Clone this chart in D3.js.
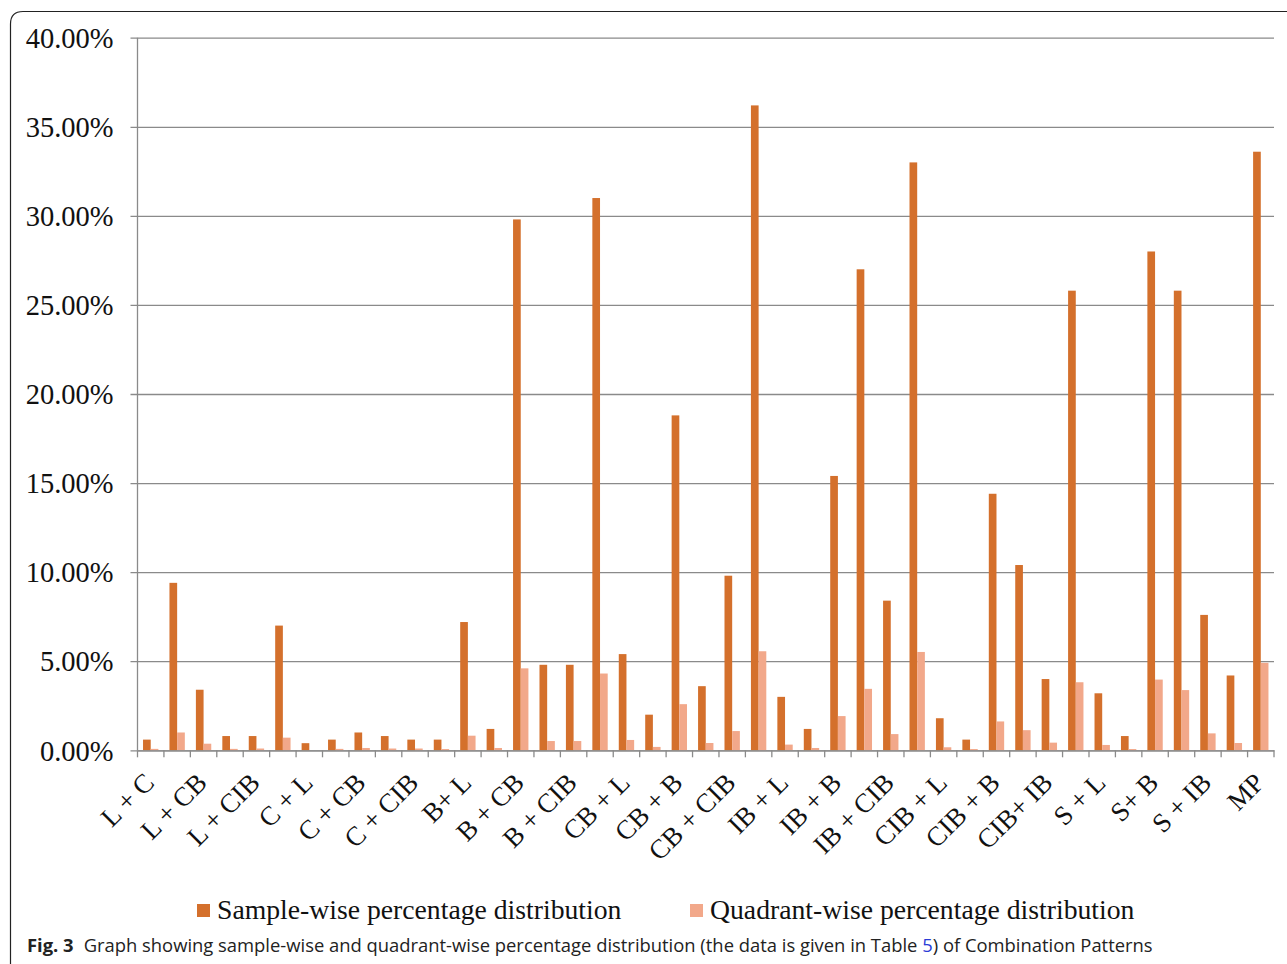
<!DOCTYPE html>
<html><head><meta charset="utf-8">
<script src="https://cdn.jsdelivr.net/npm/d3@7"></script>
<style>
html,body{margin:0;padding:0;background:#fff;}
svg{display:block;}
</style></head>
<body>
<svg id="chart" width="1287" height="964"></svg>
<script>
const categories = [
  "L + C","L + B","L + CB","L + IB","L + CIB","L + S",
  "C + L","C + B","C + CB","C + IB","C + CIB","C + S",
  "B+ L","B + C","B + CB","B + IB","B + CIB","B + S",
  "CB + L","CB + C","CB + B","CB + IB","CB + CIB","CB + S",
  "IB + L","IB + C","IB + B","IB + CB","IB + CIB","IB + S",
  "CIB + L","CIB + C","CIB + B","CIB + CB","CIB+ IB","CIB + S",
  "S + L","S + C","S+ B","S + CB","S + IB","S + CIB",
  "MP"
];
const sampleWise = [
  0.6, 9.4, 3.4, 0.8, 0.8, 7.0,
  0.4, 0.6, 1.0, 0.8, 0.6, 0.6,
  7.2, 1.2, 29.8, 4.8, 4.8, 31.0,
  5.4, 2.0, 18.8, 3.6, 9.8, 36.2,
  3.0, 1.2, 15.4, 27.0, 8.4, 33.0,
  1.8, 0.6, 14.4, 10.4, 4.0, 25.8,
  3.2, 0.8, 28.0, 25.8, 7.6, 4.2,
  33.6
];
const quadrantWise = [
  0.08, 1.0, 0.37, 0.08, 0.1, 0.71,
  0.0, 0.08, 0.13, 0.1, 0.1, 0.07,
  0.82, 0.13, 4.6, 0.52, 0.52, 4.31,
  0.58, 0.19, 2.59, 0.41, 1.08, 5.56,
  0.32, 0.13, 1.92, 3.45, 0.91, 5.52,
  0.17, 0.07, 1.62, 1.13, 0.43, 3.82,
  0.3, 0.07, 3.97, 3.38, 0.95, 0.41,
  4.91
];
const seriesNames = ["Sample-wise percentage distribution","Quadrant-wise percentage distribution"];
const seriesColors = ["#D4702C","#F2A88A"];
const yTicks = [0,5,10,15,20,25,30,35,40];

(function(){
const svg = d3.select("#chart");
const serif = "'Liberation Serif','Times New Roman',serif";

// frame
svg.append("path")
  .attr("d","M10.5,964 L10.5,24 Q10.5,11.5 23,11.5 L1287,11.5")
  .attr("fill","none").attr("stroke","#222").attr("stroke-width",1.2);

const pL = 137.5, pR = 1274, pT = 37.7, pB = 750.3;
const x0 = d3.scaleBand().domain(categories).range([pL,pR]).paddingInner(0).paddingOuter(0);
const x1 = d3.scaleBand().domain([0,1]).range([0,x0.bandwidth()]).paddingInner(0).paddingOuter(0.72);
const y = d3.scaleLinear().domain([0,40]).range([pB,pT]);
const fmt = v => d3.format(".2%")(v/100);

// gridlines
const yAxis = d3.axisLeft(y).tickValues(yTicks).tickFormat(fmt).tickSize(-(pR-pL)).tickSizeOuter(0).tickPadding(24);
const gy = svg.append("g").attr("transform",`translate(${pL},0)`).call(yAxis);
gy.select(".domain").remove();
gy.selectAll(".tick line").attr("stroke","#8a8a8a").attr("stroke-width",1.3).attr("x1",-7);
gy.selectAll(".tick text").attr("font-family",serif).attr("font-size",28.5).attr("fill","#111").attr("dy","0.34em");

// y axis line
svg.append("line").attr("x1",pL).attr("x2",pL).attr("y1",pT).attr("y2",pB)
  .attr("stroke","#8a8a8a").attr("stroke-width",1.3);

// bars
const data = categories.map((c,i)=>({c, vals:[sampleWise[i], quadrantWise[i]]}));
const groups = svg.append("g").selectAll("g").data(data).join("g")
  .attr("transform",d=>`translate(${x0(d.c)},0)`);
groups.selectAll("rect").data(d=>d.vals.map((v,k)=>({v,k}))).join("rect")
  .attr("x",d=>x1(d.k)).attr("width",x1.bandwidth())
  .attr("y",d=>y(d.v)).attr("height",d=>pB-y(d.v))
  .attr("fill",d=>seriesColors[d.k]);

// x axis
const xAxis = d3.axisBottom(x0).tickSize(0).tickFormat((d,i)=> i%2===0 ? d : "");
const gx = svg.append("g").attr("transform",`translate(0,${pB})`).call(xAxis);
gx.select(".domain").attr("stroke","#8a8a8a").attr("stroke-width",1.3);
gx.selectAll(".tick text")
  .attr("font-family",serif).attr("font-size",27).attr("fill","#111")
  .attr("text-anchor","end").attr("dy",0).attr("y",0)
  .attr("transform","translate(5,34) rotate(-45)");
// boundary tick marks
const bounds = categories.map(c=>x0(c)).concat([pR]);
svg.append("g").selectAll("line").data(bounds).join("line")
  .attr("x1",d=>d).attr("x2",d=>d).attr("y1",pB).attr("y2",pB+7)
  .attr("stroke","#8a8a8a").attr("stroke-width",1.3);

// legend
const legX = [197, 690];
const leg = svg.append("g").selectAll("g").data(seriesNames).join("g")
  .attr("transform",(d,i)=>`translate(${legX[i]},904)`);
leg.append("rect").attr("width",13).attr("height",13).attr("fill",(d,i)=>seriesColors[i]);
leg.append("text").attr("x",20).attr("y",15).attr("font-family",serif).attr("font-size",27.7)
  .attr("fill","#111").text(d=>d);

// caption
const cap = svg.append("text").attr("x",27).attr("y",952).attr("font-family","'Open Sans','Noto Sans',sans-serif")
  .attr("font-size",18.4).attr("fill","#222");
cap.append("tspan").attr("font-weight","bold").text("Fig. 3");
cap.append("tspan").attr("dx",10).text("Graph showing sample-wise and quadrant-wise percentage distribution (the data is given in Table ");
cap.append("tspan").attr("fill","#2a3cd6").text("5");
cap.append("tspan").text(") of Combination Patterns");
})();
</script>
</body></html>
